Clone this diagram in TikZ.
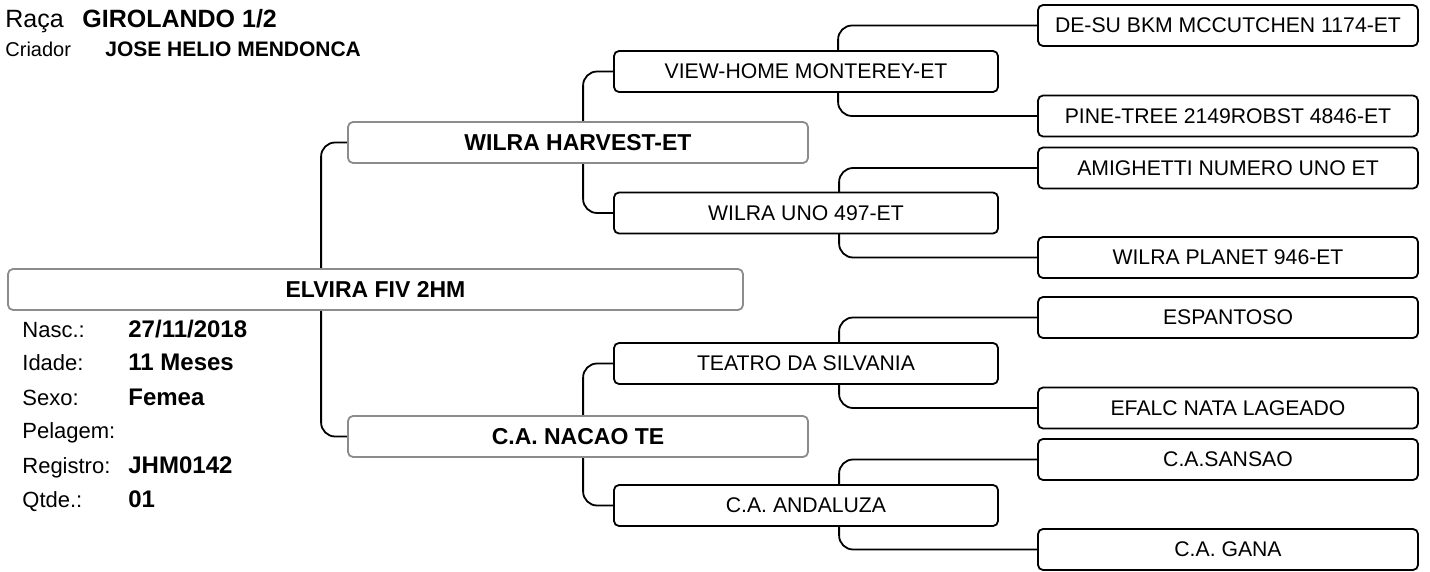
\documentclass[tikz,border=0pt]{standalone}
\usepackage{fontspec}
\setmainfont{Liberation Sans}
\usetikzlibrary{
    backgrounds,
    positioning
}

\begin{document}
\begin{tikzpicture}[x=0.5pt, y=-0.5pt,
        box/.style={draw, fill=white, rounded corners=2.5pt, line width=0.9pt, inner sep=0pt,
            minimum height=20.5pt, font=\fontsize{10.6}{12}\selectfont},
        ggp/.style={box, minimum width=190pt},
        par/.style={box, minimum width=192pt},
        main/.style={box, draw=black!45, font=\bfseries\fontsize{11.5}{13}\selectfont},
        link/.style={line width=0.9pt, rounded corners=7pt},
        lbl/.style={anchor=base west, inner sep=0pt, font=\fontsize{11}{13}\selectfont},
        val/.style={anchor=base west, inner sep=0pt, font=\bfseries\fontsize{12}{14}\selectfont}]
    \useasboundingbox (0,0) rectangle (1430,572);

    % header
    \node[anchor=base west, inner sep=0pt, font=\fontsize{12.5}{14}\selectfont] (raca) at (5,28) {Raça};
    \node[anchor=base west, inner sep=0pt, font=\bfseries\fontsize{12.5}{14}\selectfont] (raca-v) at (82,28) {GIROLANDO 1/2};
    \node[anchor=base west, inner sep=0pt, font=\fontsize{10}{12}\selectfont] (criador) at (5,57) {Criador};
    \node[anchor=base west, inner sep=0pt, font=\bfseries\fontsize{10.5}{12}\selectfont] (criador-v) at (105,57) {JOSE HELIO MENDONCA};

    % animal
    \node[main, minimum width=367.5pt] (elvira) at (375.5,289.5) {ELVIRA FIV 2HM};

    \node[lbl] (nasc) at (22,337) {Nasc.:};
    \node[val] (nasc-v) at (128,337) {27/11/2018};
    \node[lbl] (idade) at (22,371) {Idade:};
    \node[val] (idade-v) at (128,371) {11 Meses};
    \node[lbl] (sexo) at (22,405) {Sexo:};
    \node[val] (sexo-v) at (128,405) {Femea};
    \node[lbl] (pelagem) at (22,438) {Pelagem:};
    \node[lbl] (registro) at (22,473) {Registro:};
    \node[val] (registro-v) at (128,473) {JHM0142};
    \node[lbl] (qtde) at (22,507) {Qtde.:};
    \node[val] (qtde-v) at (128,507) {01};

    % parents
    \node[main, minimum width=230pt] (harvest) at (578,142.5) {WILRA HARVEST-ET};
    \node[main, minimum width=230pt] (nacao) at (578,436.5) {C.A. NACAO TE};

    % grandparents
    \node[par] (viewhome) at (806,71.5) {VIEW-HOME MONTEREY-ET};
    \node[par] (wilrauno) at (806,213) {WILRA UNO 497-ET};
    \node[par] (teatro) at (806,363.5) {TEATRO DA SILVANIA};
    \node[par] (andaluza) at (806,505.5) {C.A. ANDALUZA};

    % great-grandparents
    \node[ggp] (desu) at (1228,25.5) {DE-SU BKM MCCUTCHEN 1174-ET};
    \node[ggp] (pinetree) at (1228,116) {PINE-TREE 2149ROBST 4846-ET};
    \node[ggp] (amighetti) at (1228,168) {AMIGHETTI NUMERO UNO ET};
    \node[ggp] (planet) at (1228,257.5) {WILRA PLANET 946-ET};
    \node[ggp] (espantoso) at (1228,317.5) {ESPANTOSO};
    \node[ggp] (efalc) at (1228,408) {EFALC NATA LAGEADO};
    \node[ggp] (sansao) at (1228,459.5) {C.A.SANSAO};
    \node[ggp] (gana) at (1228,549.5) {C.A. GANA};

    \begin{pgfonlayer}{background}
        \draw[link] (harvest.west) -- ++(-26,0) |- (nacao.west);
        \draw[link] (viewhome.west) -- ++(-30,0) |- (wilrauno.west);
        \draw[link] (teatro.west) -- ++(-30,0) |- (andaluza.west);
        \draw[link] (desu.west) -- ++(-199,0) |- (pinetree.west);
        \draw[link] (amighetti.west) -- ++(-198,0) |- (planet.west);
        \draw[link] (espantoso.west) -- ++(-198,0) |- (efalc.west);
        \draw[link] (sansao.west) -- ++(-198,0) |- (gana.west);
    \end{pgfonlayer}
\end{tikzpicture}
\end{document}
